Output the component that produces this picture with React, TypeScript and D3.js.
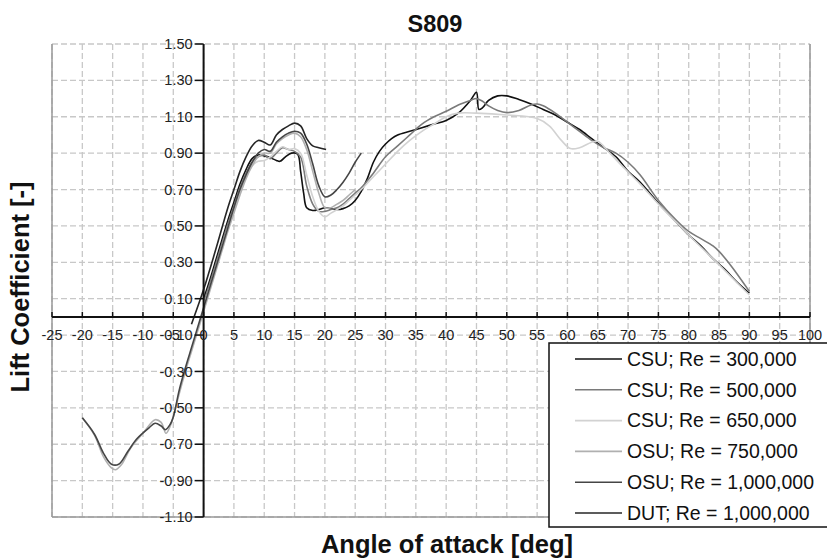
import React from "react";
import * as d3 from "d3";

const xTicks = [-25, -20, -15, -10, -5, 0, 5, 10, 15, 20, 25, 30, 35, 40, 45, 50, 55, 60, 65, 70, 75, 80, 85, 90, 95, 100];
const yTicks = [1.5, 1.3, 1.1, 0.9, 0.7, 0.5, 0.3, 0.1, -0.1, -0.3, -0.5, -0.7, -0.9, -1.1];

const csu300: [number, number][] = [
  [0, 0.1], [1, 0.2], [2, 0.31], [3, 0.42], [4, 0.53], [5, 0.63], [6, 0.73], [7, 0.81], [8, 0.87], [9, 0.89], [10, 0.885],
  [11, 0.875], [12, 0.86], [12.6, 0.855], [13.5, 0.88], [14.5, 0.9], [15.5, 0.895], [16, 0.8], [16.5, 0.68], [17, 0.6],
  [18, 0.585], [19, 0.59], [20, 0.6], [21, 0.595], [22, 0.59], [23, 0.595], [24, 0.61], [25, 0.64], [26, 0.69], [27, 0.76],
  [28, 0.85], [29, 0.91], [30, 0.95], [31, 0.98], [32, 1.0], [34, 1.02], [36, 1.04], [38, 1.06], [40, 1.08], [42, 1.12],
  [44, 1.19], [45, 1.235], [45.4, 1.14], [46, 1.15], [47, 1.19], [48.5, 1.215], [50, 1.215], [52, 1.195], [54, 1.17],
  [56, 1.14], [58, 1.11], [60, 1.07], [62, 1.03], [64, 0.98], [66, 0.93], [68, 0.88], [70, 0.8], [72, 0.74], [75, 0.625],
  [78, 0.52], [80, 0.45], [82, 0.39], [84, 0.32], [86, 0.26], [88, 0.19], [90, 0.13],
];
const csu500: [number, number][] = [
  [0, 0.08], [1, 0.18], [2, 0.29], [3, 0.4], [4, 0.51], [5, 0.61], [6, 0.71], [7, 0.79], [8, 0.85], [9, 0.88], [10, 0.89],
  [11, 0.87], [12, 0.9], [13, 0.93], [14, 0.92], [15, 0.91], [16, 0.88], [17, 0.72], [18, 0.62], [19, 0.58], [20, 0.58],
  [21, 0.59], [22, 0.6], [23, 0.62], [24, 0.65], [25, 0.68], [26, 0.71], [28, 0.79], [30, 0.88], [32, 0.94], [34, 1.0],
  [36, 1.06], [38, 1.1], [40, 1.13], [42, 1.165], [44, 1.19], [45, 1.2], [46, 1.185], [47, 1.16], [48.5, 1.135], [50, 1.123],
  [52, 1.135], [54, 1.165], [55, 1.17], [56, 1.16], [58, 1.12], [60, 1.07], [62, 1.02], [64, 0.97], [66, 0.93], [68, 0.9],
  [70, 0.85], [72, 0.78], [75, 0.64], [78, 0.53], [80, 0.47], [82, 0.43], [84, 0.39], [85, 0.36], [87, 0.28], [90, 0.14],
];
const csu650: [number, number][] = [
  [0, 0.06], [1, 0.16], [2, 0.27], [3, 0.38], [4, 0.49], [5, 0.59], [6, 0.69], [7, 0.77], [8, 0.83], [9, 0.855], [10, 0.86],
  [11, 0.88], [12, 0.91], [13, 0.935], [14, 0.92], [15, 0.925], [16, 0.9], [17, 0.78], [18, 0.66], [19, 0.58], [20, 0.55],
  [21, 0.57], [22, 0.59], [23, 0.61], [24, 0.64], [25, 0.67], [26, 0.7], [28, 0.77], [30, 0.84], [32, 0.91], [34, 0.97],
  [36, 1.02], [38, 1.06], [40, 1.1], [42, 1.12], [45, 1.12], [50, 1.11], [55, 1.09], [57, 1.05], [59, 0.97], [60.5, 0.925],
  [62, 0.93], [64, 0.96], [65, 0.965], [67, 0.9], [69, 0.83], [72, 0.73], [75, 0.62], [78, 0.52], [80, 0.45], [84, 0.32],
  [87, 0.22], [90, 0.12],
];
const osu750: [number, number][] = [
  [-20, -0.555], [-18, -0.65], [-16.5, -0.77], [-15.2, -0.83], [-14.5, -0.84], [-13.5, -0.81], [-12, -0.72], [-10, -0.64],
  [-8, -0.565], [-7, -0.58], [-6.2, -0.64], [-5.5, -0.6], [-5, -0.55], [-4, -0.42], [-3, -0.3], [-2, -0.19], [-1, -0.08],
  [0, 0.03], [1, 0.14], [2, 0.25], [3, 0.36], [4, 0.47], [5, 0.57], [6, 0.67], [7, 0.76], [8, 0.83], [9, 0.88], [10, 0.9],
  [11, 0.9], [12, 0.95], [13, 0.98], [14, 1.0], [15, 1.01], [16, 0.99], [17, 0.92], [18, 0.8], [19, 0.68], [20, 0.6],
  [21, 0.6], [22, 0.62], [23, 0.64], [24, 0.67], [25, 0.7],
];
const osu1000: [number, number][] = [
  [-20, -0.555], [-18, -0.645], [-16.5, -0.75], [-15.2, -0.81], [-14, -0.81], [-12.5, -0.74], [-11, -0.67], [-9, -0.61],
  [-8, -0.585], [-7, -0.6], [-6.3, -0.62], [-5.5, -0.59], [-5, -0.55], [-4, -0.4], [-3, -0.28], [-2, -0.17], [-1, -0.06],
  [0, 0.05], [1, 0.16], [2, 0.27], [3, 0.38], [4, 0.49], [5, 0.6], [6, 0.7], [7, 0.78], [8, 0.85], [9, 0.9], [10, 0.92],
  [11, 0.91], [12, 0.96], [13, 0.99], [14, 1.01], [15, 1.02], [16, 1.01], [17, 0.95], [18, 0.84], [19, 0.72], [20, 0.66],
  [21, 0.67], [22, 0.7], [23, 0.74], [24, 0.79], [25, 0.85], [26, 0.9],
];
const dut1000: [number, number][] = [
  [-2, -0.04], [0, 0.15], [2, 0.37], [4, 0.6], [5, 0.7], [6, 0.8], [7, 0.88], [8, 0.94], [9, 0.97], [10, 0.96], [11, 0.945],
  [12, 1.0], [13, 1.03], [14, 1.05], [15, 1.065], [16, 1.05], [17, 0.98], [18, 0.94], [19, 0.93], [20.2, 0.92],
];

const seriesNames = ["CSU; Re = 300,000", "CSU; Re = 500,000", "CSU; Re = 650,000", "OSU; Re = 750,000", "OSU; Re = 1,000,000", "DUT; Re = 1,000,000"];
const seriesData = [csu300, csu500, csu650, osu750, osu1000, dut1000];
const seriesColors = ["#111111", "#7a7a7a", "#d2d2d2", "#b0b0b0", "#454545", "#262626"];

export default function App() {
  const W = 827, H = 558;
  const L = 52, R = 810, T = 44, B = 517;
  const x = d3.scaleLinear().domain([-25, 100]).range([L, R]);
  const y = d3.scaleLinear().domain([-1.1, 1.5]).range([B, T]);
  const line = d3.line<[number, number]>().x(d => x(d[0])).y(d => y(d[1])).curve(d3.curveCatmullRom.alpha(0.5));
  const font = "Liberation Sans, Arial, Helvetica, sans-serif";
  const x0 = x(0), y0 = y(0);
  const legX = 549, legY = 343, legRowY = (i: number) => 359 + i * 30.8;

  return (
    <svg width={W} height={H} style={{ position: "absolute", left: 0, top: 0, background: "#fff" }} fontFamily={font}>
      <rect x={0} y={0} width={W} height={H} fill="#fff" />
      {xTicks.map(t => (
        <line key={"gx" + t} x1={x(t)} x2={x(t)} y1={T} y2={B} stroke="#c8c8c8" strokeWidth={1.3} strokeDasharray="6,3" />
      ))}
      {yTicks.map(t => (
        <line key={"gy" + t} x1={L} x2={R} y1={y(t)} y2={y(t)} stroke="#c8c8c8" strokeWidth={1.3} strokeDasharray="6,3" />
      ))}
      <line x1={L} x2={L} y1={T} y2={B} stroke="#999" strokeWidth={1.5} />
      <line x1={R} x2={R} y1={T} y2={B} stroke="#999" strokeWidth={1.5} />
      <line x1={L} x2={R} y1={B} y2={B} stroke="#999" strokeWidth={1.5} />
      {seriesData.map((s, i) => (
        <path key={"s" + i} d={line(s) || ""} fill="none" stroke={seriesColors[i]} strokeWidth={1.6} />
      ))}
      <line x1={x0} x2={x0} y1={T} y2={B} stroke="#111" strokeWidth={2} />
      <line x1={L} x2={R} y1={y0} y2={y0} stroke="#111" strokeWidth={2} />
      {yTicks.map(t => (
        <g key={"yt" + t}>
          <line x1={x0 - 9} x2={x0} y1={y(t)} y2={y(t)} stroke="#111" strokeWidth={1.5} />
          <text x={x0 - 11} y={y(t)} dy="0.35em" textAnchor="end" fontSize={14.5} fill="#222">{t.toFixed(2)}</text>
        </g>
      ))}
      {xTicks.map(t => (
        <g key={"xt" + t}>
          <line x1={x(t)} x2={x(t)} y1={y0 - 5} y2={y0} stroke="#111" strokeWidth={1.5} />
          <text x={x(t)} y={y0 + 23} textAnchor="middle" fontSize={14.5} fill="#222">{t}</text>
        </g>
      ))}
      <text x={435} y={32} textAnchor="middle" fontSize={23.5} fontWeight="bold" fill="#111">S809</text>
      <text x={447} y={553} textAnchor="middle" fontSize={25.5} fontWeight="bold" fill="#111">Angle of attack [deg]</text>
      <text transform={`translate(29,287) rotate(-90)`} textAnchor="middle" fontSize={25.5} fontWeight="bold" fill="#111">Lift Coefficient [-]</text>
      <rect x={legX} y={legY} width={W - legX + 5} height={527 - legY} fill="#fff" stroke="#111" strokeWidth={1.5} />
      {seriesNames.map((n, i) => (
        <g key={"lg" + i}>
          <line x1={575} x2={622} y1={legRowY(i)} y2={legRowY(i)} stroke={seriesColors[i]} strokeWidth={1.6} />
          <text x={627} y={legRowY(i)} dy="0.35em" fontSize={19.5} fill="#111">{n}</text>
        </g>
      ))}
    </svg>
  );
}
